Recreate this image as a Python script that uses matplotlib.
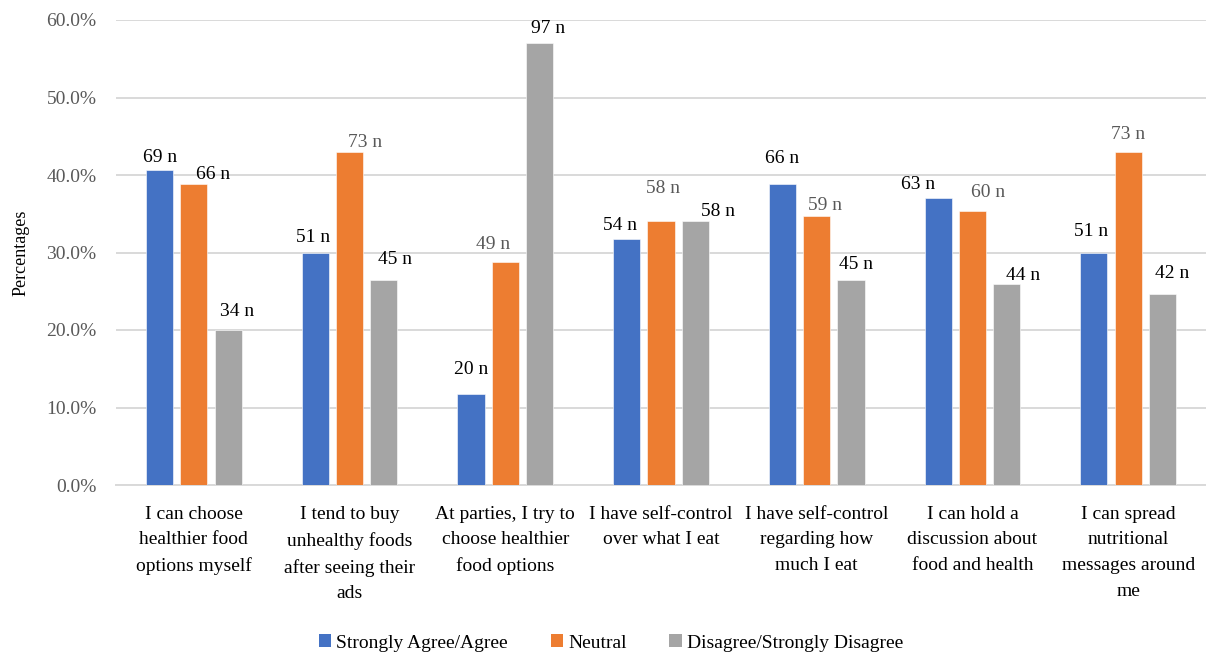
import matplotlib
matplotlib.use("Agg")
import matplotlib.pyplot as plt
from matplotlib.patches import Patch
import numpy as np

plt.rcParams['font.family'] = ['Liberation Serif', 'DejaVu Serif']

# Survey statements (x-axis categories)
categories = [
    "I can choose\nhealthier food\noptions myself",
    "I tend to buy\nunhealthy foods\nafter seeing their\nads",
    "At parties, I try to\nchoose healthier\nfood options",
    "I have self-control\nover what I eat",
    "I have self-control\nregarding how\nmuch I eat",
    "I can hold a\ndiscussion about\nfood and health",
    "I can spread\nnutritional\nmessages around\nme",
]
series_names = ["Strongly Agree/Agree", "Neutral", "Disagree/Strongly Disagree"]

# Respondent counts per answer group
total_n = 170
agree_n = [69, 51, 20, 54, 66, 63, 51]
neutral_n = [66, 73, 49, 58, 59, 60, 73]
disagree_n = [34, 45, 97, 58, 45, 44, 42]

colors = ["#4472C4", "#ED7D31", "#A5A5A5"]
y_ticks = [0.0, 0.1, 0.2, 0.3, 0.4, 0.5, 0.6]

# Label nudges in pixels (dx, dy) relative to the top-centre of each bar
label_offsets = [
    [(0, 13), (-2, 15), (0, 24), (-7, 13), (0, 26), (-20, 13), (-3, 21)],
    [(19, 10), (15, 10), (-12, 17), (2, 32), (8, 11), (16, 19), (0, 18)],
    [(9, 18), (11, 20), (9, 14), (23, 9), (5, 15), (16, 9), (10, 20)],
]
# Some labels are rendered in a lighter grey
label_colors = [
    ["black"] * 7,
    ["black", "#595959", "#595959", "#595959", "#595959", "#595959", "#595959"],
    ["black"] * 7,
]

W, H = 1206, 657
fig = plt.figure(figsize=(W / 100, H / 100), dpi=100)
ax = fig.add_axes([116 / W, 1 - 485 / H, (1206 - 116) / W, (485 - 20) / H])

x = np.arange(len(categories))
offsets = [-0.22, 0.0, 0.22]
width = 0.174
counts = [agree_n, neutral_n, disagree_n]

for s, (vals, col, off) in enumerate(zip(counts, colors, offsets)):
    pct = np.array(vals) / total_n
    bars = ax.bar(x + off, pct, width=width, color=col, edgecolor="white",
                  linewidth=0.4, zorder=3)
    for i, (b, n) in enumerate(zip(bars, vals)):
        dx, dy = label_offsets[s][i]
        ax.annotate(f"{n} n", (b.get_x() + b.get_width() / 2, b.get_height()),
                    xytext=(dx, dy), textcoords="offset pixels",
                    ha="center", va="center", fontsize=14,
                    color=label_colors[s][i], zorder=4)

ax.set_xlim(-0.5, len(categories) - 0.5)
ax.set_ylim(0, 0.6)
ax.set_yticks(y_ticks)
ax.set_yticklabels([f"{v * 100:.1f}%" for v in y_ticks])
ax.set_xticks(x)
ax.set_xticklabels(categories, fontsize=14, linespacing=1.66)
ax.tick_params(axis="y", length=0, pad=14, labelsize=14, labelcolor="#595959")
ax.tick_params(axis="x", length=0, pad=15, labelcolor="black")

ax.grid(axis="y", color="#D9D9D9", linewidth=1.4, zorder=0)
for sp in ["top", "right", "left"]:
    ax.spines[sp].set_visible(False)
ax.spines["bottom"].set_color("#D9D9D9")
ax.spines["bottom"].set_linewidth(1.4)

fig.text(21 / W, 1 - 253 / H, "Percentages", rotation=90, ha="center",
         va="center", fontsize=13)

handles = [Patch(facecolor=c, edgecolor="none") for c in colors]
fig.legend(handles, series_names, loc="center", ncol=3,
           bbox_to_anchor=(611 / W, 1 - 643 / H), frameon=False,
           fontsize=14, handlelength=0.65, handleheight=0.65,
           handletextpad=0.25, columnspacing=2.2)

fig.savefig("out.png", dpi=100)
